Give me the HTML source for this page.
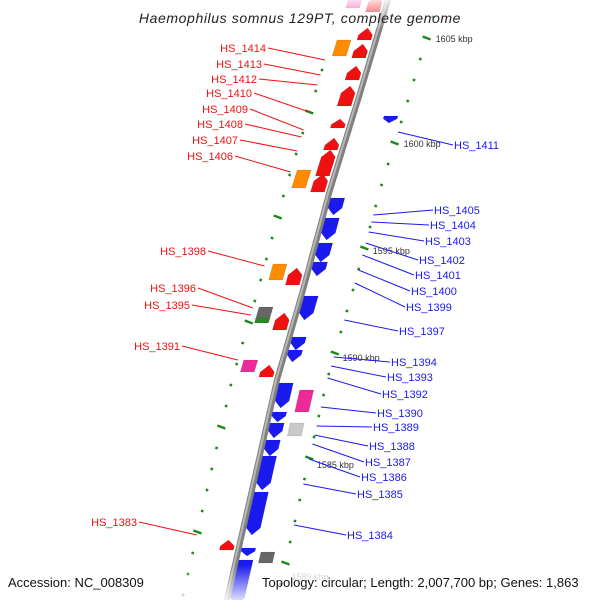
<!DOCTYPE html>
<html><head><meta charset="utf-8"><style>
html,body{margin:0;padding:0;background:#fff;width:600px;height:600px;overflow:hidden;}
svg{display:block;font-family:"Liberation Sans",sans-serif;overflow:hidden;}
</style></head><body>
<svg id="map" width="600" height="600" viewBox="0 0 600 600">
<defs>
<linearGradient id="fadeTop" x1="0" y1="0" x2="0" y2="1"><stop offset="0" stop-color="#fff" stop-opacity="0.85"/><stop offset="1" stop-color="#fff" stop-opacity="0"/></linearGradient>
<linearGradient id="fadeBot" x1="0" y1="0" x2="0" y2="1"><stop offset="0" stop-color="#fff" stop-opacity="0"/><stop offset="1" stop-color="#fff" stop-opacity="0.85"/></linearGradient>
</defs>
<g id="ticks"></g>
<path id="backbone" fill="none" stroke="#808080" stroke-width="6"/>
<path id="backbone2" fill="none" stroke="#b8b8b8" stroke-width="2"/>
<g id="genes"></g>
<g id="labels"></g>
<rect x="0" y="0" width="600" height="30" fill="url(#fadeTop)"/>
<rect x="0" y="565" width="600" height="35" fill="url(#fadeBot)"/>
<text x="300" y="23" text-anchor="middle" font-size="14" font-style="italic" fill="#222" letter-spacing="0.6">Haemophilus somnus 129PT, complete genome</text>
<text x="8" y="587" font-size="13" fill="#111">Accession: NC_008309</text>
<text x="262" y="587" font-size="13" fill="#111">Topology: circular; Length: 2,007,700 bp; Genes: 1,863</text>
</svg>
<script>
const bbY=[0,100,190,290,380,490,600];
const bbX=[388,358,330,303,277,252,227];
// kbp major tick labels and their y positions along the map
const kbpLabels=["1605 kbp","1600 kbp","1595 kbp","1590 kbp","1585 kbp","1580 kbp"];
const kbpY=[38,143,250,357,464,576];
// gene features: start y, end y, lane offset, direction, colour
const geneY0=[-5,28,44,66,86,119,138,150,174,268,313,365,540, 198,218,243,262,296,337,350,383,412,423,440,456,492,548,560, 116, 40,170,264,307,318,360,390,423,552,-5];
const geneY1=[12,40,58,80,106,128,150,176,192,285,330,377,550, 215,240,262,276,320,350,362,408,422,438,456,490,535,556,610, 123, 56,188,280,320,323,372,412,436,563,8];
const geneLane=[-12,-12,-12,-12,-12,-12,-12,-12,-12,-12,-12,-12,-12, 10,10,10,10,10,10,10,10,10,10,10,10,10,10,10, 38, -32,-32,-30,-32,-32,-32,32,30,30,-33];
const geneDir=[-1,-1,-1,-1,-1,-1,-1,-1,-1,-1,-1,-1,-1, 1,1,1,1,1,1,1,1,1,1,1,1,1,1,1, 1, 0,0,0,0,0,0,0,0,0,0];
const R="#ee1111",B="#1a1aee";
const geneCol=[R,R,R,R,R,R,R,R,R,R,R,R,R, B,B,B,B,B,B,B,B,B,B,B,B,B,B,B, B, "#ff8c00","#ff8c00","#ff8c00","#666666","#2a8a2a","#ee2a9a","#ee2a9a","#c8c8c8","#666666","#ee2a9a"];
// labels
const redNames=["HS_1414","HS_1413","HS_1412","HS_1410","HS_1409","HS_1408","HS_1407","HS_1406","HS_1398","HS_1396","HS_1395","HS_1391","HS_1383"];
const redTextX=[266,262,257,252,248,243,238,233,206,196,190,180,137];
const redTextY=[48,64,79,93,109,124,140,156,251,288,305,346,522];
const redEndY=[60,75,85,112,130,137,151,172,266,308,315,360,535];
const blueNames=["HS_1411","HS_1405","HS_1404","HS_1403","HS_1402","HS_1401","HS_1400","HS_1399","HS_1397","HS_1394","HS_1393","HS_1392","HS_1390","HS_1389","HS_1388","HS_1387","HS_1386","HS_1385","HS_1384"];
const blueTextX=[454,434,430,425,419,415,411,406,399,391,387,382,377,373,369,365,361,357,347];
const blueTextY=[145,210,225,241,260,275,291,307,331,362,377,394,413,427,446,462,477,494,535];
const blueStartY=[132,215,222,232,243,255,270,283,320,357,366,378,407,426,435,444,459,484,525];

const NS="http://www.w3.org/2000/svg";
function lineX(y){
  if(y<=bbY[0]) return bbX[0]+(bbX[0]-bbX[1])/(bbY[1]-bbY[0])*(bbY[0]-y);
  for(let i=0;i<bbY.length-1;i++){
    if(y<=bbY[i+1]){const t=(y-bbY[i])/(bbY[i+1]-bbY[i]);return bbX[i]+t*(bbX[i+1]-bbX[i]);}
  }
  const n=bbY.length-1;return bbX[n]+(bbX[n]-bbX[n-1])/(bbY[n]-bbY[n-1])*(y-bbY[n]);
}
let d="";for(let y=-5;y<=605;y+=5){d+=(y==-5?"M":"L")+lineX(y).toFixed(1)+","+y;}
document.getElementById('backbone').setAttribute('d',d);
let d2="";for(let y=-5;y<=605;y+=5){d2+=(y==-5?"M":"L")+(lineX(y)-1).toFixed(1)+","+y;}
document.getElementById('backbone2').setAttribute('d',d2);

function el(tag,attrs,parent){const e=document.createElementNS(NS,tag);for(const k in attrs)e.setAttribute(k,attrs[k]);parent.appendChild(e);return e;}

// ticks
const tg=document.getElementById('ticks');
const step=(kbpY[1]-kbpY[0])/5;
for(let y=kbpY[0]-step*2;y<600;y+=step){
  const k=Math.round((y-kbpY[0])/step);
  const major=(k%5===0);
  const xr=lineX(y)+50;
  const t=el('line',{x1:xr-(major?4:1.2),y1:y-(major?1.5:0.4),x2:xr+(major?4:1.2),y2:y+(major?1.5:0.4),stroke:'#1a8a1a','stroke-width':2.5},tg);
  
  
  const yl=y+74;
  if(yl<600){
    const xl=lineX(yl)-45;
    const t2=el('line',{x1:xl-(major?4:1.2),y1:yl-(major?1.5:0.4),x2:xl+(major?4:1.2),y2:yl+(major?1.5:0.4),stroke:'#1a8a1a','stroke-width':2.5},tg);
    
    
  }
}
kbpLabels.forEach((s,i)=>{
  const y=kbpY[i];
  const t=el('text',{x:lineX(y)+59,y:y+4,'font-size':9,fill:i===5?'#ccc':'#333'},tg);
  t.textContent=s;
  
  
});

// genes
const gg=document.getElementById('genes');
for(let i=0;i<geneY0.length;i++){
  const y0=geneY0[i],y1=Math.min(geneY1[i],605),off=geneLane[i],dir=geneDir[i];
  const half=7;
  const c0=lineX(y0)+off,c1=lineX(y1)+off;
  let pts;
  const len=y1-y0,tip=Math.min(7,len*0.6);
  if(dir===1){
    const ym=y1-tip,cm=lineX(ym)+off;
    pts=[[c0-half,y0],[c0+half,y0],[cm+half,ym],[c1,y1],[cm-half,ym]];
  }else if(dir===-1){
    const ym=y0+tip,cm=lineX(ym)+off;
    pts=[[c0,y0],[cm+half,ym],[c1+half,y1],[c1-half,y1],[cm-half,ym]];
  }else{
    pts=[[c0-half,y0],[c0+half,y0],[c1+half,y1],[c1-half,y1]];
  }
  const p=el('polygon',{points:pts.map(q=>q[0].toFixed(1)+","+q[1].toFixed(1)).join(" "),fill:geneCol[i],stroke:'rgba(0,0,0,0.15)','stroke-width':0.5},gg);
  
  
}

// labels
const lg=document.getElementById('labels');
redNames.forEach((n,i)=>{
  const y=redTextY[i],ye=redEndY[i];
  const l=el('line',{x1:redTextX[i]+2,y1:y,x2:lineX(ye)-45,y2:ye,stroke:'#ee1111','stroke-width':1},lg);
  
  
  const t=el('text',{x:redTextX[i],y:y+4,'text-anchor':'end','font-size':11,fill:'#ee1111'},lg);
  t.textContent=n;
  
  
});
blueNames.forEach((n,i)=>{
  const y=blueTextY[i],ys=blueStartY[i];
  const l=el('line',{x1:lineX(ys)+50,y1:ys,x2:blueTextX[i]-1,y2:y,stroke:'#1a1aee','stroke-width':1},lg);
  
  
  const t=el('text',{x:blueTextX[i],y:y+4,'font-size':11,fill:'#1a1aee'},lg);
  t.textContent=n;
  
  
});
</script>
</body></html>
